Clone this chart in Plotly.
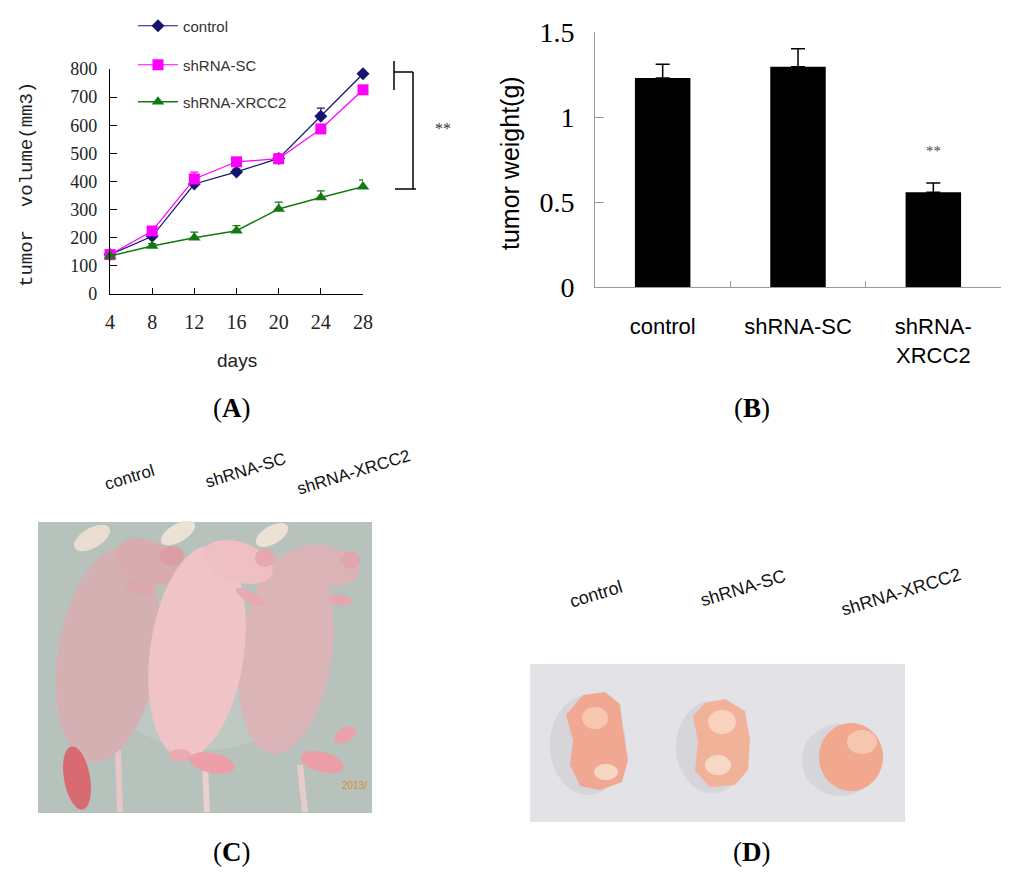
import numpy as np
import plotly.graph_objects as go

# ---------------- data ----------------
days = [4, 8, 12, 16, 20, 24, 28]
control_vol = [140, 205, 391, 434, 482, 632, 783]
sc_vol = [140, 224, 409, 470, 481, 587, 726]
xrcc2_vol = [135, 171, 200, 225, 302, 343, 381]
control_err = [6, 8, 14, 10, 10, 29, 6]
sc_err = [6, 8, 24, 8, 8, 8, 8]
xrcc2_err = [6, 8, 20, 18, 25, 24, 25]

groups = ["control", "shRNA-SC", "shRNA-XRCC2"]
group_labels = ["control", "shRNA-SC", "shRNA-<br>XRCC2"]
weight = [1.23, 1.296, 0.557]
weight_err = [0.08, 0.105, 0.055]

W, H = 1024, 879


def px(x):
    return x / W


def py(y):
    return 1 - y / H


def ellipse_path(cx, cy, rx, ry, ang=0, n=48):
    t = np.linspace(0, 2 * np.pi, n, endpoint=False)
    a = np.deg2rad(ang)
    dx, dy = rx * np.cos(t), ry * np.sin(t)
    xs = cx + dx * np.cos(a) - dy * np.sin(a)
    ys = cy + dx * np.sin(a) + dy * np.cos(a)
    pts = [f"{px(x):.5f},{py(y):.5f}" for x, y in zip(xs, ys)]
    return "M" + " L".join(pts) + " Z"


def poly_path(pts):
    return "M" + " L".join(f"{px(x):.5f},{py(y):.5f}" for x, y in pts) + " Z"


fig = go.Figure()

# ---------------- panel A ----------------
series = [
    ("control", control_vol, control_err, "#14146e", "diamond", 10, 1.2, "legend"),
    ("shRNA-SC", sc_vol, sc_err, "#ff00ff", "square", 11, 1.2, "legend2"),
    ("shRNA-XRCC2", xrcc2_vol, xrcc2_err, "#137a13", "triangle-up", 11, 1.5, "legend3"),
]
for name, vals, errs, col, sym, size, lw, leg in series:
    fig.add_trace(go.Scatter(
        x=days, y=vals, name=name, mode="lines+markers",
        line=dict(color=col, width=lw),
        marker=dict(symbol=sym, size=size, color=col),
        error_y=dict(type="data", array=errs, arrayminus=[0] * len(errs),
                     symmetric=False, color=col, thickness=1.2, width=4),
        cliponaxis=False, legend=leg, xaxis="x", yaxis="y",
    ))

# ---------------- panel B ----------------
fig.add_trace(go.Bar(
    x=groups, y=weight, marker=dict(color="black", line=dict(width=0)),
    error_y=dict(type="data", array=weight_err, arrayminus=[0, 0, 0],
                 symmetric=False, color="black", thickness=1.5, width=7),
    showlegend=False, xaxis="x2", yaxis="y2",
))

serif = "Liberation Serif"
sans = "Liberation Sans"
mono = "Liberation Mono"

layout = dict(
    width=W, height=H, margin=dict(l=0, r=0, t=0, b=0, autoexpand=False),
    paper_bgcolor="white", plot_bgcolor="rgba(0,0,0,0)",
    bargap=0.59,
    xaxis=dict(domain=[px(110), px(363)], range=[4, 28], tickvals=days,
               ticks="inside", ticklen=6, tickcolor="black", showline=True,
               linecolor="black", linewidth=1.3, showgrid=False, zeroline=False,
               tickfont=dict(family=serif, size=20, color="#222"),
               ticklabelstandoff=10, anchor="y", fixedrange=True, automargin=False),
    yaxis=dict(domain=[py(294), py(69)], range=[0, 800], dtick=100,
               ticks="inside", ticklen=7, tickcolor="black", showline=True,
               linecolor="black", linewidth=1.3, showgrid=False, zeroline=False,
               tickfont=dict(family=serif, size=18, color="#222"),
               ticklabelstandoff=8, anchor="x", fixedrange=True, automargin=False),
    xaxis2=dict(domain=[px(595), px(1001)], range=[-0.5, 2.5], type="category",
                tickvals=groups, ticktext=group_labels, tickson="boundaries",
                ticks="inside", ticklen=6, tickcolor="#9a9a9a", showline=True,
                linecolor="#9a9a9a", linewidth=1, showgrid=False, zeroline=False,
                tickfont=dict(family=sans, size=22, color="black"),
                ticklabelstandoff=20, anchor="y2", fixedrange=True, automargin=False),
    yaxis2=dict(domain=[py(287), py(32)], range=[0, 1.5],
                tickvals=[0, 0.5, 1, 1.5], ticktext=["0", "0.5", "1", "1.5"],
                ticks="inside", ticklen=9, tickcolor="#9a9a9a", showline=True,
                linecolor="#9a9a9a", linewidth=1, showgrid=False, zeroline=False,
                tickfont=dict(family=serif, size=28, color="black"),
                ticklabelstandoff=14, anchor="x2", fixedrange=True, automargin=False),
)
legend_common = dict(bgcolor="rgba(0,0,0,0)", borderwidth=0, itemwidth=40,
                     font=dict(family=sans, size=15, color="#333"),
                     xanchor="left", yanchor="middle", itemclick=False,
                     itemdoubleclick=False)
layout["legend"] = dict(x=px(133), y=py(26), **legend_common)
layout["legend2"] = dict(x=px(133), y=py(65), **legend_common)
layout["legend3"] = dict(x=px(133), y=py(102), **legend_common)
fig.update_layout(**layout)

ann = []


def text(x, y, s, size, family=sans, color="black", angle=0, **kw):
    ann.append(dict(x=px(x), y=py(y), xref="paper", yref="paper", text=s,
                    showarrow=False, textangle=angle,
                    font=dict(family=family, size=size, color=color),
                    xanchor="center", yanchor="middle", **kw))


# titles
text(27, 185, "tumor  volume(mm3)", 19, mono, "#222", -90)
text(237, 360, "days", 19, sans, "#222")
text(510, 163, "tumor weight(g)", 25, sans, "black", -90)
text(443, 128, "**", 16, serif, "#333")
ann.append(dict(x="shRNA-XRCC2", y=0.80, xref="x2", yref="y2", text="**",
                showarrow=False, font=dict(family=serif, size=15, color="#444")))

# panel letters
for (x, y, l) in [(232, 408, "A"), (752, 408, "B"), (232, 852, "C"), (752, 852, "D")]:
    text(x, y, f"(<b>{l}</b>)", 27, serif, "black")

# photo labels
for (x, y, s) in [(129, 477, "control"), (245, 470, "shRNA-SC"), (353, 472, "shRNA-XRCC2")]:
    text(x, y, s, 17, sans, "#111", -17)
for (x, y, s) in [(596, 594, "control"), (743, 588, "shRNA-SC"), (901, 592, "shRNA-XRCC2")]:
    text(x, y, s, 18, sans, "#111", -17)

text(354, 785, "2013/", 10, sans, "#d8902c")

shapes = []


def line(x0, y0, x1, y1, color="black", width=1.5, layer="above"):
    shapes.append(dict(type="line", xref="paper", yref="paper", x0=px(x0), y0=py(y0),
                       x1=px(x1), y1=py(y1), line=dict(color=color, width=width), layer=layer))


def fill(path, color, layer="below", opacity=1):
    shapes.append(dict(type="path", xref="paper", yref="paper", path=path,
                       fillcolor=color, line=dict(width=0), layer=layer, opacity=opacity))


# significance bracket in panel A
line(394, 61, 394, 90)
line(394, 72, 413, 72)
line(413, 72, 413, 189)
line(395, 189, 416, 189)

# ---- photo C (mice) ----
fill(poly_path([(38, 522), (372, 522), (372, 813), (38, 813)]), "#b7c2bc")
fill(ellipse_path(205, 690, 90, 60), "#c3cdc8", opacity=0.6)
# tails
line(118, 750, 120, 812, "#e6c6c6", 6, "below")
line(205, 765, 207, 812, "#ecd0d0", 6, "below")
line(300, 765, 305, 812, "#e8cccc", 6, "below")
# ears
fill(ellipse_path(92, 538, 20, 10, -30), "#e8ddd0")
fill(ellipse_path(178, 533, 19, 9, -30), "#ece1d5")
fill(ellipse_path(272, 535, 18, 9, -30), "#ece1d5")
# left mouse
fill(ellipse_path(108, 655, 50, 108, 9), "#d5b0b2")
fill(ellipse_path(148, 562, 34, 21, 22), "#d8abae")
fill(ellipse_path(172, 556, 12, 10, 0), "#dc9ea4")
fill(ellipse_path(138, 587, 15, 6, 15), "#dba8ac")
fill(ellipse_path(77, 778, 13, 32, -10), "#d86a72")
# right mouse
fill(ellipse_path(286, 652, 46, 103, 8), "#dab4b6")
fill(ellipse_path(325, 565, 35, 19, 15), "#dbb3b6")
fill(ellipse_path(350, 560, 10, 9, 0), "#e0a8ae")
fill(ellipse_path(340, 600, 12, 5, 10), "#e6a4ac")
fill(ellipse_path(345, 735, 12, 7, -30), "#eaa2aa")
fill(ellipse_path(322, 762, 22, 10, 15), "#eb9ea8")
# middle mouse
fill(ellipse_path(197, 652, 47, 107, 8), "#f0c3c7")
fill(ellipse_path(238, 562, 36, 20, 18), "#eec0c4")
fill(ellipse_path(265, 558, 10, 9, 0), "#e6a8b0")
fill(ellipse_path(250, 597, 16, 5, 30), "#e8a8b0")
fill(ellipse_path(212, 763, 23, 10, 12), "#ee9ea8")
fill(ellipse_path(180, 755, 11, 6, 0), "#eaaab0")

# ---- photo D (tumours) ----
fill(poly_path([(530, 664), (905, 664), (905, 822), (530, 822)]), "#e3e3e7")
fill(ellipse_path(588, 745, 38, 50), "#cfcfd4", opacity=0.7)
fill(ellipse_path(712, 747, 36, 46), "#cfcfd4", opacity=0.7)
fill(ellipse_path(840, 760, 38, 36), "#cfcfd4", opacity=0.7)
fill(poly_path([(583, 695), (605, 692), (620, 704), (623, 730), (628, 760), (622, 782),
                (600, 790), (580, 786), (570, 765), (573, 740), (566, 715)]), "#f1a892")
fill(ellipse_path(595, 718, 13, 11), "#f6c6ae")
fill(ellipse_path(606, 772, 12, 8), "#f8d6c4")
fill(poly_path([(705, 703), (725, 699), (745, 711), (750, 740), (748, 770), (735, 785),
                (710, 787), (695, 771), (698, 742), (693, 716)]), "#f2b29a")
fill(ellipse_path(722, 722, 14, 12), "#f8d2bc")
fill(ellipse_path(718, 765, 13, 10), "#f7d8c6")
fill(ellipse_path(851, 757, 32, 34), "#f2a78f")
fill(ellipse_path(862, 742, 15, 12), "#f7c6ae")

fig.update_layout(annotations=ann, shapes=shapes)
fig.write_html("out.html", config={"displayModeBar": False},
               post_script="document.body.style.margin='0';document.body.style.overflow='hidden';")
